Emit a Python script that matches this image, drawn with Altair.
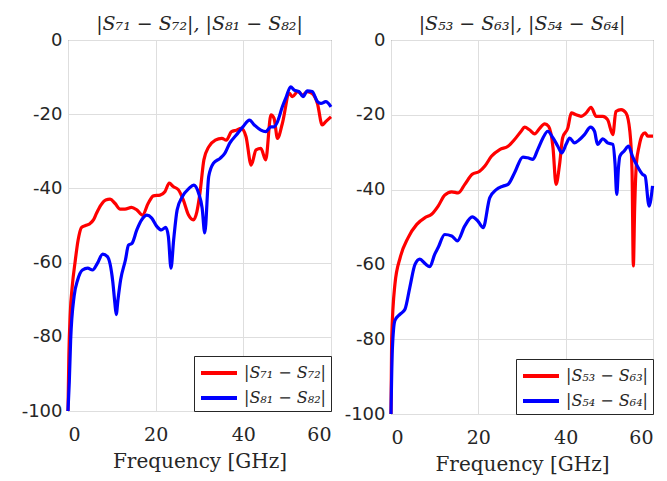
import altair as alt
import pandas as pd

# ---- Left panel data: |S71 - S72| (red), |S81 - S82| (blue) ----
lr_f = [0, 0.2, 0.5, 1.0, 1.6, 2.3, 3.1, 4.0, 5.0, 5.8, 6.5, 7.5, 8.6, 9.6, 10.7, 11.9, 13.0, 14.5,
        15.7, 17.0, 18.3, 19.5, 21.0, 22.1, 23.1, 24.0, 25.2, 26.3, 27.5, 28.6, 29.4, 30.1, 31.0,
        32.1, 33.6, 35.1, 36.1, 37.3, 38.4, 39.5, 40.6, 41.8, 42.9, 44.0, 45.1, 46.3, 47.0, 47.8,
        48.9, 50.5, 51.2, 52.4, 53.5, 54.6, 55.7, 56.9, 58.0, 58.8, 60.0]
lr_v = [-100, -85, -74, -66, -60, -54, -50.5, -50, -49.5, -48.5, -46.7, -44.5, -43.1, -42.9, -44,
        -45.6, -45.6, -45.1, -45.8, -47.2, -44, -42, -41.8, -40.9, -38.6, -39.5, -40.4, -43.1,
        -47.2, -48.5, -46.3, -41.3, -32.3, -28.8, -27, -26.5, -27, -24.7, -24.3, -23.8, -26,
        -33.7, -29.6, -29.2, -32.3, -20.2, -21.1, -26.5, -22.5, -14.4, -15.3, -13.9, -14.8,
        -13.9, -14.4, -17.1, -22.9, -22, -20.7]

lb_f = [0, 0.3, 0.6, 1.4, 2.2, 3.3, 4.5, 5.6, 6.7, 7.9, 9.0, 10.2, 10.7, 11.0, 11.4, 12.0, 13.1,
        13.8, 14.6, 15.7, 16.8, 18.0, 19.1, 20.3, 21.3, 22.3, 22.9, 23.5, 24.1, 24.9, 26.1, 27.6,
        28.7, 29.8, 30.6, 31.2, 32.1, 33.2, 34.7, 35.8, 36.9, 38.4, 39.9, 41.4, 42.5, 44.0, 45.1,
        46.3, 47.0, 47.8, 48.9, 49.8, 50.8, 51.6, 52.7, 53.6, 54.6, 55.7, 56.9, 57.7, 58.8, 60.0]
lb_v = [-100, -92, -81, -69, -64.7, -62, -61.5, -62, -60.2, -57.7, -58.4, -65, -71, -74, -70,
        -64.7, -59.3, -55.3, -54.8, -51.2, -48.5, -47.2, -48, -50.3, -51.2, -50.5, -53, -61.5,
        -53.9, -45.8, -42.2, -40, -39.1, -41.3, -45.3, -52, -36.8, -33.2, -31.9, -30.5, -27.8,
        -25.6, -23.4, -21.6, -22.9, -24.3, -24.7, -23.4, -23.4, -22, -18, -15.3, -12.6, -13.5,
        -13.9, -15.3, -13.7, -13.9, -16.6, -17.1, -16.6, -18]

# ---- Right panel data: |S53 - S63| (red), |S54 - S64| (blue) ----
rr_f = [0, 0.15, 0.9, 2.1, 3.9, 5.9, 7.8, 9.3, 10.8, 12.3, 13.9, 15.4, 16.9, 18.6, 20.3, 21.5,
        23.0, 24.9, 26.8, 28.3, 29.8, 30.6, 31.7, 32.9, 34.0, 35.2, 36.1, 37.1, 37.8, 38.6, 39.3,
        40.5, 41.3, 42.4, 43.5, 44.7, 45.8, 47.0, 48.5, 49.6, 50.8, 51.5, 52.7, 53.8, 54.7, 55.2,
        55.5, 55.8, 56.2, 56.8, 57.5, 58.2, 58.8, 60.0]
rr_v = [-100, -80, -65.3, -58.2, -52.9, -49.3, -47.5, -46.6, -44.4, -41.5, -40.6, -40.9, -38.6,
        -35.9, -35.1, -33.7, -31.1, -29.3, -28.4, -26.6, -24.4, -23.3, -24, -25.1, -23.7, -22.4,
        -23.1, -28.8, -38.6, -33.3, -26.2, -23.5, -19.5, -20, -20.4, -19.5, -18, -20.4, -20.4,
        -21.3, -25.3, -19.1, -18.6, -19.5, -24.4, -35, -60.4, -45, -33, -28.5, -25.5, -24.8,
        -25.7, -25.7]

rb_f = [0, 0.3, 0.9, 2.1, 3.2, 4.3, 5.5, 6.6, 7.8, 8.9, 10.0, 10.8, 12.3, 13.9, 15.2, 16.9, 18.6,
        19.9, 21.1, 22.6, 24.1, 25.6, 26.8, 28.3, 30.2, 31.3, 32.5, 33.6, 34.8, 35.9, 37.1, 38.2,
        39.1, 40.1, 40.9, 42.0, 43.2, 44.3, 45.7, 46.6, 47.3, 48.5, 49.6, 50.8, 51.3, 51.7, 52.1,
        52.4, 53.4, 54.4, 55.3, 56.4, 57.6, 58.2, 59.1, 59.9]
rb_v = [-100, -83, -75, -73.3, -72, -66.2, -60, -58.6, -59.8, -60.6, -57.3, -55.5, -52, -52.4,
        -53.7, -49.7, -47.3, -48.4, -50.2, -42.2, -40, -39.1, -38.6, -35.5, -31.3, -31.5, -31.9,
        -29.3, -26.2, -24.4, -26.2, -28.4, -30.2, -27.9, -26.2, -27.5, -26.6, -25.3, -23.3,
        -24.4, -27.9, -26.4, -27.5, -27.9, -33, -41.3, -34, -31.1, -29.7, -28.4, -31.1, -33.7,
        -35.9, -36.4, -44.4, -39]

left_title = "|S\u2087\u2081 \u2212 S\u2087\u2082|, |S\u2088\u2081 \u2212 S\u2088\u2082|"
left_labels = ["|S\u2087\u2081 \u2212 S\u2087\u2082|", "|S\u2088\u2081 \u2212 S\u2088\u2082|"]
right_title = "|S\u2085\u2083 \u2212 S\u2086\u2083|, |S\u2085\u2084 \u2212 S\u2086\u2084|"
right_labels = ["|S\u2085\u2083 \u2212 S\u2086\u2083|", "|S\u2085\u2084 \u2212 S\u2086\u2084|"]

x_ticks = [0, 20, 40, 60]
y_ticks = [-100, -80, -60, -40, -20, 0]


def make_df(f1, v1, f2, v2, labels):
    d1 = pd.DataFrame({"f": f1, "v": v1, "s": labels[0], "o": range(len(f1))})
    d2 = pd.DataFrame({"f": f2, "v": v2, "s": labels[1], "o": range(len(f2))})
    return pd.concat([d1, d2], ignore_index=True)


def panel(df, title, labels, w, h):
    return alt.Chart(df, title=title).mark_line(
        strokeWidth=3.2, interpolate="monotone"
    ).encode(
        x=alt.X("f:Q", scale=alt.Scale(domain=[0, 60], nice=False),
                axis=alt.Axis(values=x_ticks, title="Frequency [GHz]")),
        y=alt.Y("v:Q", scale=alt.Scale(domain=[-100, 0], nice=False),
                axis=alt.Axis(values=y_ticks, title=None, labelExpr="'' + datum.value")),
        color=alt.Color("s:N", scale=alt.Scale(domain=labels, range=["#ff0000", "#0000ff"]),
                        legend=alt.Legend(title=None, orient="bottom-right")),
        order="o:Q",
    ).properties(width=w, height=h)


left = panel(make_df(lr_f, lr_v, lb_f, lb_v, left_labels), left_title, left_labels, 263, 371)
right = panel(make_df(rr_f, rr_v, rb_f, rb_v, right_labels), right_title, right_labels, 262, 374)

chart = alt.hconcat(left, right, spacing=60, bounds="flush").resolve_scale(
    color="independent"
).resolve_legend(color="independent").properties(
    padding={"left": 20, "top": 14, "right": 5, "bottom": 0}
).configure_view(
    stroke="#505050", strokeWidth=1
).configure_axis(
    domain=False, ticks=False, grid=True, gridColor="#dedede", gridWidth=1,
    labelColor="#262626", titleColor="#262626", labelPadding=6,
).configure_axisY(
    labelFont="DejaVu Sans", labelFontSize=18,
).configure_axisX(
    labelFont="DejaVu Serif", labelFontSize=19, labelPadding=14,
    titleFont="DejaVu Serif", titleFontSize=20, titleFontWeight="normal", titlePadding=7,
).configure_title(
    font="DejaVu Serif", fontSize=19, fontStyle="italic", fontWeight="normal",
    color="#262626", offset=-3, anchor="middle",
).configure_legend(
    offset=0, padding=5, strokeColor="#262626", fillColor="white",
    symbolType="M-1,0H2.6", symbolStrokeWidth=4, symbolSize=400,
    labelFont="DejaVu Serif", labelFontStyle="italic", labelFontSize=16,
    labelColor="#262626", labelOffset=21, rowPadding=5, cornerRadius=0,
)

chart.save("out.html", embed_options={"renderer": "svg", "actions": False})
